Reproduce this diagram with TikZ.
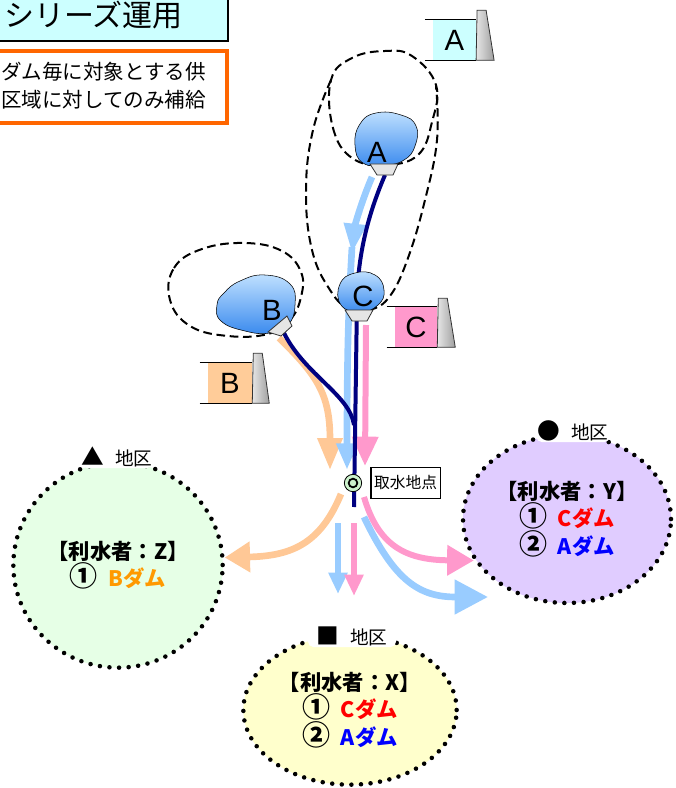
\documentclass[tikz,border=0pt]{standalone}
\usepackage{fontspec}
\setmainfont{Liberation Sans}
\newfontfamily\jp{Noto Sans CJK JP}
\usetikzlibrary{arrows.meta, shapes.geometric, positioning}
\definecolor{cyanbox}{HTML}{CCFFFF}
\definecolor{pinkbox}{HTML}{FF99CC}
\definecolor{orbox}{HTML}{FFCC99}
\definecolor{noteframe}{HTML}{FF6600}
\definecolor{flowb}{HTML}{99CCFF}
\definecolor{flowp}{HTML}{FF99CC}
\definecolor{flowo}{HTML}{FFC896}
\definecolor{navyline}{HTML}{000080}
\definecolor{pondtop}{HTML}{BFE0FF}
\definecolor{pondbot}{HTML}{3A8AEE}
\definecolor{zoneZc}{HTML}{E6FFE6}
\definecolor{zoneYc}{HTML}{E0CCFF}
\definecolor{zoneXc}{HTML}{FFFFCC}
\definecolor{damB}{HTML}{FF9900}
\definecolor{intc}{HTML}{CCF2CC}
\newcommand{\rank}[1]{{\fontsize{21}{19}\selectfont #1}\hspace{0.5em}}

\begin{document}
\begin{tikzpicture}[x=0.75pt,y=-0.75pt,
		dambox/.style={minimum height=30pt,inner sep=0pt,font=\fontsize{22}{22}\selectfont},
		damline/.style={line width=1.1pt},
		wall/.style={left color=gray!20,right color=gray!75,draw=gray!40!black,line width=0.6pt},
		pond/.style={top color=pondtop,bottom color=pondbot},
		gate/.style={fill=gray!20,draw=gray!40!black,line width=0.6pt},
		letter/.style={inner sep=0pt,font=\fontsize{22}{22}\selectfont},
		loop/.style={line width=1.5pt,dash pattern=on 6.5pt off 3.5pt},
		region/.style={ellipse,draw,inner sep=0pt,line width=3.4pt,dash pattern=on 0pt off 7.2pt,line cap=round,align=center,font=\jp\bfseries\fontsize{16}{19}\selectfont},
		tab/.style={fill=white,rounded corners=4pt,minimum height=16.5pt,inner sep=0pt,font=\jp\fontsize{14}{14}\selectfont},
		flowblue/.style={draw=flowb,line width=5pt},
		flowpink/.style={draw=flowp,line width=4.5pt},
		flowor/.style={draw=flowo,line width=5pt},
		navy/.style={draw=navyline,line width=3pt},
		intake/.style={circle,draw,fill=intc,line width=0.6pt,minimum size=13pt,inner sep=0pt}]
		\useasboundingbox (0,0) rectangle (675,788);

		\node [region, fill=zoneZc, minimum width=157pt, minimum height=154pt] (zoneZ) at (118,565) {【利水者：Z】\\\rank{①}{\color{damB}Bダム}};
		\node [region, fill=zoneYc, minimum width=156pt, minimum height=126pt] (zoneY) at (567,519) {【利水者：Y】\\\rank{①}{\color{red}Cダム}\\\rank{②}{\color{blue}Aダム}};
		\node [region, fill=zoneXc, minimum width=160pt, minimum height=112pt] (zoneX) at (350,710) {【利水者：X】\\\rank{①}{\color{red}Cダム}\\\rank{②}{\color{blue}Aダム}};
		\node [tab, minimum width=53pt] (tabZ) at (117,457) {{\fontsize{17}{14}\selectfont ▲}\hspace{0.6em}地区};
		\node [tab, minimum width=55pt] (tabY) at (573,431) {{\fontsize{17}{14}\selectfont ●}\hspace{0.6em}地区};
		\node [tab, minimum width=66pt] (tabX) at (352,636) {{\fontsize{17}{14}\selectfont ■}\hspace{0.6em}地区};

		\draw [loop] plot [smooth cycle, tension=0.7] coordinates {(331,80) (333,128) (352,158) (385,165) (418,155) (432,122) (436,85) (412,56) (385,51) (352,58)};
		\draw [loop] plot [smooth, tension=0.7] coordinates {(331,80) (313,130) (306,190) (312,250) (330,290) (350,310) (370,310) (390,296) (408,258) (425,200) (437,140) (436,86)};
		\draw [loop] plot [smooth cycle, tension=0.7] coordinates {(170,300) (174,268) (202,249) (245,243) (282,251) (301,272) (301,297) (290,320) (268,334) (228,336) (190,326)};

		\coordinate (gAl) at (372,177);
		\coordinate (gA) at (385,175);
		\coordinate (aTip) at (352,253);
		\coordinate (aRes) at (352,247);
		\coordinate (inBlue) at (347,470);
		\coordinate (gB) at (284,333);
		\coordinate (gBo) at (279,338);
		\coordinate (join) at (354,425);
		\coordinate (inOr) at (330,470);
		\coordinate (gCp) at (366,325);
		\coordinate (inPink) at (365,466);
		\coordinate (navEnd) at (354,507);
		\coordinate (outOr) at (341,494);
		\coordinate (outPk) at (364,497);
		\coordinate (outBl) at (364,517);
		\coordinate (outBlEnd) at (488,597);
		\coordinate (dnBl) at (338,523);
		\coordinate (dnBlEnd) at (338,594);
		\coordinate (dnPk) at (354,523);
		\coordinate (dnPkEnd) at (354,596);

		\draw [flowor, -{Triangle[width=18pt,length=24pt]}] (gBo) .. controls (318,376) and (330,395) .. (inOr);
		\draw [flowblue, -{Triangle[width=16pt,length=22pt]}] (gAl) .. controls (362,200) and (355,225) .. (aTip);
		\draw [flowblue, -{Triangle[width=15pt,length=20pt]}] (aRes) .. controls (349,300) and (347,340) .. (inBlue);
		\draw [flowpink, -{Triangle[width=19pt,length=22pt]}] (gCp) -- (inPink);
		\draw [navy] (gA) .. controls (370,210) and (358,250) .. (357,300) -- (navEnd);
		\draw [navy] (gB) .. controls (305,375) and (350,395) .. (join);

		\draw [flowor, -{Triangle[width=22pt,length=19pt]}] (outOr) .. controls (320,545) and (290,556) .. (zoneZ.4);
		\draw [flowblue, -{Triangle[width=25pt,length=25pt]}] (outBl) .. controls (395,582) and (420,597) .. (outBlEnd);
		\draw [flowpink, -{Triangle[width=22pt,length=20pt]}] (outPk) .. controls (378,545) and (405,560) .. (zoneY.204);
		\draw [flowblue, -{Triangle[width=13.5pt,length=16pt]}] (dnBl) -- (dnBlEnd);
		\draw [flowpink, -{Triangle[width=13.5pt,length=16pt]}] (dnPk) -- (dnPkEnd);

		\draw [pond] plot [smooth cycle, tension=0.8] coordinates {(360,124) (376,113) (401,115) (416,126) (415,146) (404,160) (385,165) (363,163) (355,145)};
		\draw [pond] plot [smooth cycle, tension=0.8] coordinates {(340,284) (355,273) (375,275) (384,290) (378,305) (360,312) (341,305)};
		\draw [pond] plot [smooth cycle, tension=0.8] coordinates {(224,293) (240,281) (265,275) (290,284) (295,305) (288,325) (270,333) (245,331) (221,321) (217,305)};
		\draw [gate] (370,164) -- (398,164) -- (393,175) -- (377,175) -- cycle;
		\draw [gate] (345,310) -- (373,310) -- (367,321) -- (352,321) -- cycle;
		\draw [gate] (268,332) -- (287,316) -- (292,326) -- (281,336) -- cycle;
		\node [letter] (resA) at (377,152) {A};
		\node [letter] (resB) at (272,310) {B};
		\node [letter] (resC) at (363,296) {C};

		\node [dambox, fill=cyanbox, minimum width=32pt] (boxA) at (454.5,40) {A};
		\node [dambox, fill=orbox, minimum width=33pt] (boxB) at (230,383) {B};
		\node [dambox, fill=pinkbox, minimum width=31.5pt] (boxC) at (416,327) {C};
		\draw [wall] (boxA.south east) -- ++(18,0) -- ++(-8,-50) -- ++(-9,0) -- cycle;
		\draw [wall] (boxB.south east) -- ++(17,0) -- ++(-7,-50) -- ++(-9,0) -- cycle;
		\draw [wall] (boxC.south east) -- ++(18,0) -- ++(-8,-49) -- ++(-9,0) -- cycle;
		\draw [damline] ([xshift=-6pt]boxA.north west) -- (boxA.north east);
		\draw [damline] ([xshift=-6pt]boxA.south west) -- (boxA.south east);
		\draw [damline] ([xshift=-6pt]boxB.north west) -- (boxB.north east);
		\draw [damline] ([xshift=-6pt]boxB.south west) -- (boxB.south east);
		\draw [damline] ([xshift=-6pt]boxC.north west) -- (boxC.north east);
		\draw [damline] ([xshift=-6pt]boxC.south west) -- (boxC.south east);

		\node [intake] (int) at (353,483) {};
		\node [circle, draw, line width=1.3pt, minimum size=6.5pt, inner sep=0pt] (intRing) at (int) {};
		\node [draw, fill=white, line width=1.1pt, minimum height=23pt, inner xsep=2.5pt, font=\jp\fontsize{11.8}{11.8}\selectfont, right=6pt of int] (intLabel) {取水地点};

		\draw [fill=cyanbox, line width=1.2pt] (-10,-10) rectangle (228,41);
		\node [anchor=east, inner sep=0pt, font=\jp\fontsize{22.5}{22.5}\selectfont] (title) at (183,15) {シリーズ運用};
		\draw [draw=noteframe, fill=white, line width=2.6pt] (-10,51) rectangle (227,123);
		\node [anchor=east, inner sep=0pt, align=right, font=\jp\fontsize{15.4}{21}\selectfont] (note) at (206,86) {ダム毎に対象とする供\\区域に対してのみ補給};
	\end{tikzpicture}
\end{document}
